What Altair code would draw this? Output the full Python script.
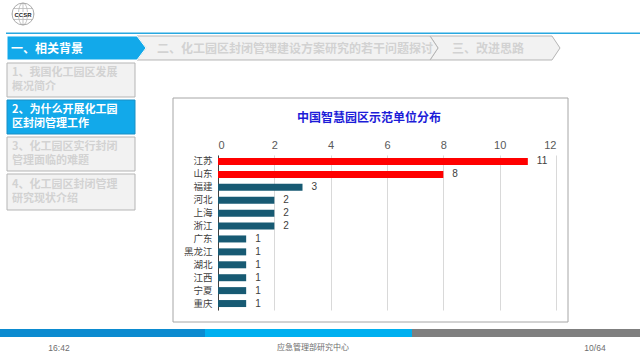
import altair as alt
import pandas as pd

# ---------------- chart data ----------------
provinces = ["江苏", "山东", "福建", "河北", "上海", "浙江", "广东", "黑龙江", "湖北", "江西", "宁夏", "重庆"]
counts = [11, 8, 3, 2, 2, 2, 1, 1, 1, 1, 1, 1]
groups = ["top", "top", "other", "other", "other", "other", "other", "other", "other", "other", "other", "other"]
x_ticks = [0, 2, 4, 6, 8, 10, 12]
chart_title = "中国智慧园区示范单位分布"

# ---------------- slide texts ----------------
tab_texts = ["一、相关背景", "二、化工园区封闭管理建设方案研究的若干问题探讨", "三、改进思路"]
side_texts = [["1、我国化工园区发展", "概况简介"],
              ["2、为什么开展化工园", "区封闭管理工作"],
              ["3、化工园区实行封闭", "管理面临的难题"],
              ["4、化工园区封闭管理", "研究现状介绍"]]
footer_left, footer_mid, footer_right = "16:42", "应急管理部研究中心", "10/64"

FONT = "Noto Sans CJK SC"
NUMFONT = "Liberation Sans"

# plot-area placement inside the 640x360 slide
PL, PT, W, H = 218, 155, 338, 155


def px(v):
    return v - PL


def py(v):
    return v - PT


def one():
    return alt.Chart(alt.Data(values=[{"k": 1}]))


def rect(x1, y1, x2, y2, fill, stroke=None, sw=1.0):
    mk = dict(fill=fill)
    if stroke:
        mk.update(stroke=stroke, strokeWidth=sw)
    return one().mark_rect(**mk).encode(
        x=alt.value(px(x1)), x2=alt.value(px(x2)),
        y=alt.value(py(y1)), y2=alt.value(py(y2)))


def text(x, y, t, size=12, color="#333333", bold=False, align="left", font=FONT):
    mk = dict(text=t, fontSize=size, color=color, align=align, baseline="middle", font=font)
    if bold:
        mk["fontWeight"] = "bold"
    return one().mark_text(**mk).encode(x=alt.value(px(x)), y=alt.value(py(y)))


def chevron(left, notch, body_r, tip, top, bottom, fill, stroke):
    cx = (left + tip) / 2.0
    cy = (top + bottom) / 2.0
    r = (tip - left) / 2.0
    def u(v):
        return round((v - cx) / r, 4)
    h = round((bottom - top) / 2.0 / r, 4)
    path = (f"M{u(left)},{-h}L{u(body_r)},{-h}L{u(tip)},0L{u(body_r)},{h}"
            f"L{u(left)},{h}L{u(notch)},0Z")
    return one().mark_point(shape=path, size=(2 * r) ** 2, filled=True, fill=fill,
                            stroke=stroke, strokeWidth=1, opacity=1).encode(
        x=alt.value(px(cx)), y=alt.value(py(cy)))


BLUE = "#12a9ea"
GREYFILL = "#f2f2f2"
GREYLINE = "#b5b5b5"
GREYTEXT = "#d2d2d2"

layers = []

# logo
globe = ("M0,-1C0.55,-1 0.55,1 0,1C-0.55,1 -0.55,-1 0,-1"
         "M-1,0L1,0M-0.87,-0.5L0.87,-0.5M-0.87,0.5L0.87,0.5M0,-1L0,1")
layers.append(one().mark_point(shape="circle", size=480, filled=False, stroke="#8a8a8a",
                               strokeWidth=1).encode(x=alt.value(px(23)), y=alt.value(py(14))))
layers.append(one().mark_point(shape=globe, size=480, filled=False, stroke="#9a9a9a",
                               strokeWidth=0.8).encode(x=alt.value(px(23)), y=alt.value(py(14))))
layers.append(rect(13, 12, 33, 17, "#ffffff"))
layers.append(text(23, 14.5, "CCSR", size=6, color="#222222", bold=True, align="center", font=NUMFONT))

# top blue line
layers.append(rect(6, 32.5, 640, 34, "#29a8e0"))

# navigation tabs
layers.append(chevron(430, 438, 552, 560, 36, 60, GREYFILL, GREYLINE))
layers.append(chevron(137, 146, 430, 438, 36, 60, GREYFILL, GREYLINE))
layers.append(chevron(7, 7, 137, 146, 36, 60, BLUE, "#ffffff"))
layers.append(text(11, 48.5, tab_texts[0], size=12, color="#ffffff", bold=True))
layers.append(text(157, 48.5, tab_texts[1], size=12, color=GREYTEXT, bold=True))
layers.append(text(452, 48.5, tab_texts[2], size=12, color=GREYTEXT, bold=True))

# side menu
boxes = [(63, 97), (100, 134), (137, 171), (174, 210)]
for i, (y1, y2) in enumerate(boxes):
    active = i == 1
    layers.append(rect(7, y1, 135, y2, BLUE if active else GREYFILL,
                       "#1a8fc4" if active else GREYLINE, 1))
    layers.append(text(12, (y1 + y2) / 2.0 - 7.4, side_texts[i][0], size=11,
                       color="#ffffff" if active else GREYTEXT, bold=True))
    layers.append(text(12, (y1 + y2) / 2.0 + 7.4, side_texts[i][1], size=11,
                       color="#ffffff" if active else GREYTEXT, bold=True))

# chart frame and title
layers.append(rect(173, 98, 568, 322, "transparent", "#a6a6a6", 1))
layers.append(text(369, 118, chart_title, size=12, color="#1c1cd8", bold=True, align="center"))

# bottom bar
layers.append(rect(0, 329, 205, 337, "#0b8bd0"))
layers.append(rect(205, 329, 412, 337, "#00b0f0"))
layers.append(rect(412, 329, 640, 337, "#7f7f7f"))

# footer
layers.append(text(59, 348, footer_left, size=8.5, color="#6e6e6e", align="center", font=NUMFONT))
layers.append(text(313, 348, footer_mid, size=8, color="#6e6e6e", align="center"))
layers.append(text(595, 348, footer_right, size=8.5, color="#6e6e6e", align="center", font=NUMFONT))

# ---------------- bar chart ----------------
df = pd.DataFrame({"province": provinces, "count": counts, "grp": groups})

xenc = alt.X("count:Q", scale=alt.Scale(domain=[0, 12], nice=False),
             axis=alt.Axis(orient="top", values=x_ticks, grid=True, gridColor="#d9d9d9",
                           domain=False, ticks=False, labelColor="#595959", labelFontSize=11,
                           labelFont=NUMFONT, labelPadding=5, title=None))
yenc = alt.Y("province:N", sort=provinces,
             scale=alt.Scale(paddingInner=0, paddingOuter=0),
             axis=alt.Axis(domain=True, domainColor="#404040", domainWidth=1, ticks=False,
                           grid=False, labelColor="#404040", labelFontSize=9.5,
                           labelFont=FONT, labelPadding=6, title=None))

bars = alt.Chart(df).mark_bar(size=7).encode(
    x=xenc, y=yenc,
    color=alt.Color("grp:N", scale=alt.Scale(domain=["top", "other"], range=["#ff0000", "#175a73"]),
                    legend=None))
labels = alt.Chart(df).mark_text(align="left", baseline="middle", dx=9, fontSize=10,
                                 font=NUMFONT, color="#404040").encode(
    x=alt.X("count:Q"), y=alt.Y("province:N", sort=provinces), text="count:Q")

chart = alt.layer(*layers, bars, labels).properties(
    width=W, height=H,
    padding={"left": PL, "top": PT, "right": 640 - PL - W, "bottom": 360 - PT - H},
    autosize=alt.AutoSizeParams(type="none"),
    background="#ffffff",
).configure_view(stroke=None)

chart.save("out.html", embed_options={"renderer": "svg", "actions": False})
